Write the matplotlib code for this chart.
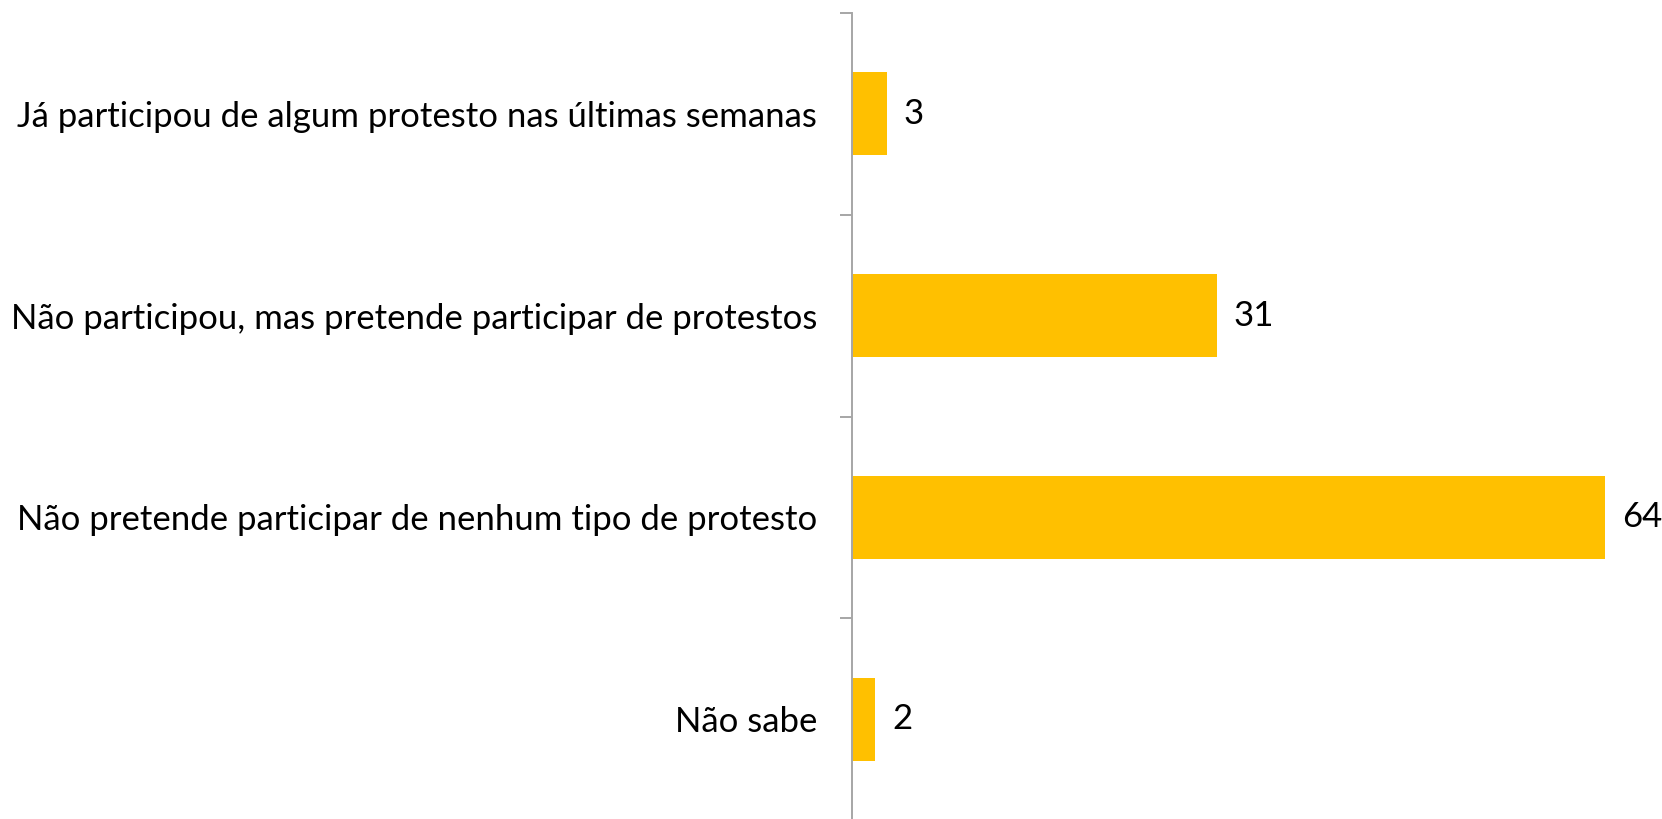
import matplotlib
matplotlib.use("Agg")
import matplotlib.pyplot as plt

# Data
categories = ["Já participou de algum protesto nas últimas semanas",
              "Não participou, mas pretende participar de protestos",
              "Não pretende participar de nenhum tipo de protesto",
              "Não sabe"]
values = [3, 31, 64, 2]

BAR_COL = "#FFC000"
AXIS_COL = "#A6A6A6"

plt.rcParams["font.family"] = ["Lato", "DejaVu Sans"]

fig = plt.figure(figsize=(16.62, 8.19), dpi=100)
ax = fig.add_axes([0.5126, -0.0018, 0.4874, 0.9865])

y = list(range(len(categories)))
ax.barh(y, values, height=0.41, color=BAR_COL)
ax.set_ylim(len(categories) - 0.5, -0.5)
ax.set_xlim(0, 68.8)

for yi, v in zip(y, values):
    ax.annotate(f"{v}", (v, yi), xytext=(12, 0), textcoords="offset points",
                va="center", ha="left", fontsize=25, color="black")

ax.set_yticks(y)
ax.set_yticklabels(categories, fontsize=25)
ax.set_yticks([i - 0.5 for i in range(len(categories) + 1)], minor=True)
ax.tick_params(axis="y", which="major", length=0, pad=25)
ax.tick_params(axis="y", which="minor", length=8.6, width=1.4, color=AXIS_COL,
               direction="out")
ax.set_xticks([])

for s in ["top", "right", "bottom"]:
    ax.spines[s].set_visible(False)
ax.spines["left"].set_color(AXIS_COL)
ax.spines["left"].set_linewidth(1.4)

fig.savefig("out.png", dpi=100)
